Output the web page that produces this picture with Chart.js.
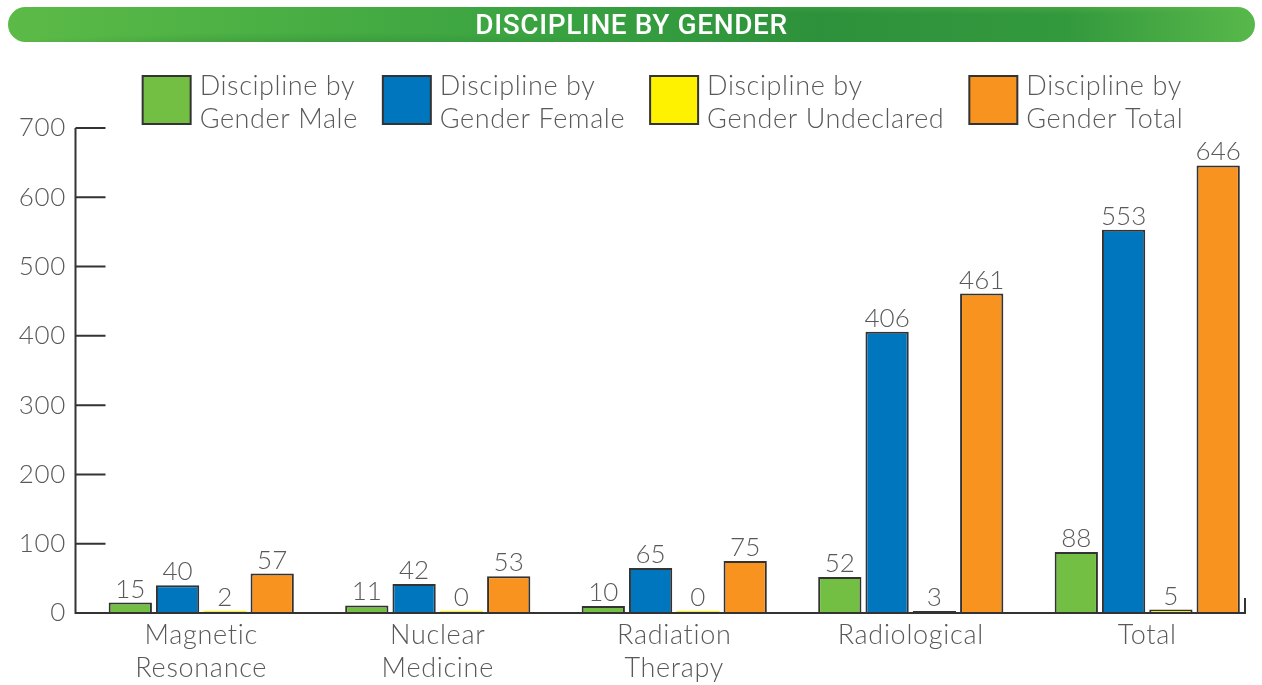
<!DOCTYPE html>
<html>
<head>
<meta charset="utf-8">
<script src="https://cdn.jsdelivr.net/npm/chart.js@4/dist/chart.umd.min.js"></script>
<style>
  html, body { margin: 0; padding: 0; background: #fff; width: 1262px; height: 685px; overflow: hidden; }
  #banner {
    position: absolute; left: 8px; top: 7px; width: 1247px; height: 35px; border-radius: 18px; overflow: hidden;
    background:
      radial-gradient(ellipse 45% 90% at 25% 135%, rgba(30,110,45,0.55), rgba(30,110,45,0) 70%),
      radial-gradient(ellipse 50% 60% at 80% -20%, rgba(120,200,80,0.45), rgba(120,200,80,0) 70%),
      linear-gradient(to right, #5cba47 0%, #4bb044 20%, #38a140 45%, #2d913b 65%, #33993d 85%, #58b84a 100%);
    color: #fff; font-family: "Roboto", "Liberation Sans", sans-serif; font-weight: 500;
    font-size: 28px; line-height: 35px; text-align: center; letter-spacing: 0.6px;
  }
  #wrap { position: absolute; left: 0; top: 0; width: 1272px; height: 685px; }
</style>
</head>
<body>
<div id="wrap"><canvas id="c" width="1272" height="685"></canvas></div>
<div id="banner">DISCIPLINE BY GENDER</div>
<script>
const categories = [["Magnetic", "Resonance"], ["Nuclear", "Medicine"], ["Radiation", "Therapy"], "Radiological", "Total"];
const seriesNames = ["Discipline by Gender Male", "Discipline by Gender Female", "Discipline by Gender Undeclared", "Discipline by Gender Total"];
const maleValues = [15, 11, 10, 52, 88];
const femaleValues = [40, 42, 65, 406, 553];
const undeclaredValues = [2, 0, 0, 3, 5];
const totalValues = [57, 53, 75, 461, 646];
const yTicks = [0, 100, 200, 300, 400, 500, 600, 700];

const colors = ["#72BF44", "#0076BF", "#FFF200", "#F7931E"];
const textColor = "#595959";
const FONT = '"Lato", "Open Sans", sans-serif';

const spacingPlugin = {
  id: "spacingPlugin",
  beforeDraw(chart) { chart.ctx.letterSpacing = "0.7px"; }
};

const axisPlugin = {
  id: "axisPlugin",
  afterDraw(chart) {
    const ctx = chart.ctx, y = chart.scales.y, area = chart.chartArea;
    const ax = area.left - 7.5;
    const x0 = y.getPixelForValue(0);
    const xr = area.right - 20.5;
    ctx.save();
    ctx.strokeStyle = "#333";
    ctx.lineWidth = 2;
    ctx.beginPath();
    ctx.moveTo(ax, y.getPixelForValue(yTicks[yTicks.length - 1]));
    ctx.lineTo(ax, x0);
    ctx.lineTo(xr, x0);
    ctx.lineTo(xr, x0 - 15);
    yTicks.forEach(v => {
      if (v === 0) return;
      const py = y.getPixelForValue(v);
      ctx.moveTo(ax, py);
      ctx.lineTo(ax + 30, py);
    });
    ctx.stroke();
    ctx.restore();
  }
};

const labelPlugin = {
  id: "labelPlugin",
  afterDatasetsDraw(chart) {
    const ctx = chart.ctx;
    ctx.save();
    ctx.letterSpacing = "0px";
    ctx.font = "300 26px " + FONT;
    ctx.fillStyle = textColor;
    ctx.textAlign = "center";
    ctx.textBaseline = "alphabetic";
    chart.data.datasets.forEach((ds, i) => {
      const meta = chart.getDatasetMeta(i);
      meta.data.forEach((bar, j) => {
        ctx.fillText(String(ds.data[j]), bar.x, bar.y - 5);
      });
    });
    ctx.restore();
  }
};

const legendPlugin = {
  id: "legendPlugin",
  afterDraw(chart) {
    const ctx = chart.ctx;
    ctx.save();
    ctx.letterSpacing = "0.6px";
    ctx.font = "300 27px " + FONT;
    const box = 48, gap = 9, between = 25;
    const items = chart.data.datasets.map(ds => {
      const words = ds.label.split(" ");
      const l1 = words.slice(0, 2).join(" ");
      const l2 = words.slice(2).join(" ");
      const w = Math.max(ctx.measureText(l1).width, ctx.measureText(l2).width);
      return { l1, l2, w, color: ds.backgroundColor };
    });
    const total = items.reduce((s, it) => s + box + gap + it.w, 0) + between * (items.length - 1);
    let x = 663 - total / 2;
    const top = 76;
    items.forEach(it => {
      ctx.fillStyle = it.color;
      ctx.fillRect(x, top, box, box);
      ctx.strokeStyle = "#333";
      ctx.lineWidth = 2;
      ctx.strokeRect(x, top, box, box);
      ctx.fillStyle = textColor;
      ctx.textAlign = "left";
      ctx.textBaseline = "middle";
      ctx.fillText(it.l1, x + box + gap, top + 10);
      ctx.fillText(it.l2, x + box + gap, top + 43);
      x += box + gap + it.w + between;
    });
    ctx.restore();
  }
};

const valueSets = [maleValues, femaleValues, undeclaredValues, totalValues];
new Chart(document.getElementById("c"), {
  type: "bar",
  data: {
    labels: categories,
    datasets: valueSets.map((vals, i) => ({
      label: seriesNames[i],
      data: vals,
      backgroundColor: colors[i],
      borderColor: "#333",
      borderWidth: i === 2 ? (c => (c.raw >= 3 ? 2 : 0)) : 2,
      minBarLength: i === 2 ? 2 : 0,
      borderSkipped: "bottom",
      categoryPercentage: 0.8,
      barPercentage: 0.915
    }))
  },
  options: {
    responsive: false,
    animation: false,
    layout: { padding: { top: 128, left: 0, right: 6.5, bottom: 0 } },
    plugins: { legend: { display: false }, tooltip: { enabled: false }, title: { display: false } },
    scales: {
      x: {
        grid: { display: false, drawTicks: false },
        border: { display: false },
        ticks: { color: textColor, font: { family: FONT, size: 27, weight: 300, lineHeight: 1.25 }, padding: 5, maxRotation: 0 },
        afterFit: s => { s.height = 72; }
      },
      y: {
        min: 0, max: 700,
        grid: { display: false, drawTicks: false },
        border: { display: false },
        ticks: { stepSize: 100, color: textColor, font: { family: FONT, size: 26, weight: 300 }, padding: 17 },
        afterFit: s => { s.width = 83; }
      }
    }
  },
  plugins: [spacingPlugin, axisPlugin, labelPlugin, legendPlugin]
});
</script>
</body>
</html>
